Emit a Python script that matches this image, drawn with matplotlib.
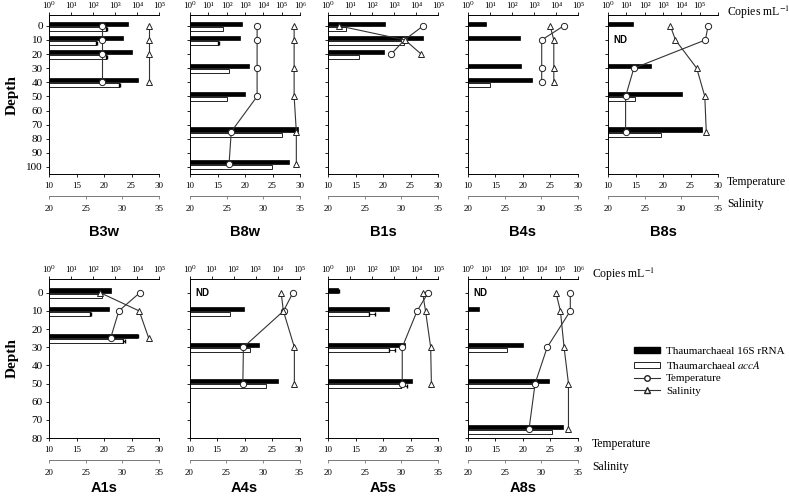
import numpy as np
import matplotlib
matplotlib.use("Agg")
import matplotlib.pyplot as plt
from matplotlib.ticker import NullLocator
from matplotlib.lines import Line2D
from matplotlib.patches import Patch

plt.rcParams['font.family'] = ['Liberation Serif', 'DejaVu Serif']
plt.rcParams['mathtext.fontset'] = 'stix'

nan = np.nan
SUP = '⁰¹²³⁴⁵⁶'

# ---------- datos fila superior (profundidad 0-100 m) ----------
b3w_depth = [0, 10, 20, 40]
b3w_16s = [4000, 2200, 5700, 11500]
b3w_acca = [400, 140, 400, 1600]
b3w_acca_err = [50, 20, 20, 100]
b3w_temp = [19.6, 19.6, 19.6, 19.6]
b3w_sal = [33.6, 33.6, 33.6, 33.6]

b8w_depth = [0, 10, 30, 50, 75, 98]
b8w_16s = [710, 530, 1700, 1000, 8.0e5, 2.6e5]
b8w_acca = [66, 34, 134, 110, 1.0e5, 2.8e4]
b8w_acca_err = [0, 6, 0, 0, 0, 0]
b8w_temp = [22.2, 22.2, 22.2, 22.2, 17.5, 17.1]
b8w_sal = [34.2, 34.2, 34.2, 34.2, 34.5, 34.5]

b1s_depth = [0, 10, 20]
b1s_16s = [400, 21000, 340]
b1s_acca = [6.8, 3000, 26]
b1s_temp = [27.3, 23.9, 21.5]
b1s_sal = [21.5, 30.5, 32.7]

b4s_depth = [0, 10, 30, 40]
b4s_16s = [6.8, 220, 250, 840]
b4s_acca = [nan, nan, nan, 9.6]
b4s_temp = [27.4, 23.4, 23.4, 23.4]
b4s_sal = [31.2, 31.7, 31.7, 31.7]

b8s_depth = [0, 10, 30, 50, 75]
b8s_16s = [23, nan, 235, 11000, 1.4e5]
b8s_acca = [nan, nan, nan, 28, 810]
b8s_temp = [28.2, 27.7, 14.7, 13.2, 13.2]
b8s_sal = [28.5, 29.2, 32.1, 33.2, 33.4]

# ---------- datos fila inferior (profundidad 0-80 m) ----------
a1s_depth = [0, 10, 25]
a1s_16s = [640, 530, 10000]
a1s_16s_err = [0, 0, 1000]
a1s_acca = [265, 75, 2300]
a1s_acca_err = [0, 10, 600]
a1s_temp = [26.5, 22.7, 21.2]
a1s_sal = [27.0, 32.3, 33.6]

a4s_depth = [0, 10, 30, 50]
a4s_16s = [nan, 290, 1400, 10700]
a4s_acca = [nan, 66, 550, 3100]
a4s_temp = [28.8, 27.1, 19.8, 19.7]
a4s_sal = [32.5, 32.8, 34.3, 34.3]

a5s_depth = [0, 10, 30, 50]
a5s_16s = [2.8, 590, 3300, 6600]
a5s_16s_err = [0.4, 0, 0, 0]
a5s_acca = [nan, 73, 570, 2000]
a5s_acca_err = [0, 60, 500, 1900]
a5s_temp = [28.2, 26.2, 23.5, 23.5]
a5s_sal = [32.9, 33.3, 34.0, 34.1]

a8s_depth = [0, 10, 30, 50, 75]
a8s_16s = [nan, 4.2, 1000, 26000, 1.5e5]
a8s_acca = [nan, nan, 140, 4200, 36000]
a8s_temp = [28.6, 28.6, 24.4, 22.2, 21.1]
a8s_sal = [32.0, 32.6, 33.1, 33.7, 33.7]

W, H = 789, 497
fig = plt.figure(figsize=(W / 100, H / 100), dpi=100)


def rect(x0, y0, x1, y1):
    return [x0 / W, 1 - y1 / H, (x1 - x0) / W, (y1 - y0) / H]


def panel(x0, y0, y1, name, depth, r16s, acca, temp, sal, ylim, dec,
          first=False, r16s_err=None, acca_err=None, nd=None, hide_last=False):
    ax = fig.add_axes(rect(x0, y0, x0 + 110, y1))
    axT = ax.twiny()
    axS = ax.twiny()

    d = np.array(depth, dtype=float)
    r16s = np.array(r16s, dtype=float)
    acca = np.array(acca, dtype=float)
    h = 0.028 * (ylim[0] - ylim[1])

    # barras (escala log arriba)
    m = ~np.isnan(r16s)
    ax.barh(d[m] - 0.5 * h, r16s[m] - 1, left=1, height=0.95 * h,
            color='black', edgecolor='black', lw=0.5)
    m2 = ~np.isnan(acca)
    ax.barh(d[m2] + 0.65 * h, acca[m2] - 1, left=1, height=0.9 * h,
            color='white', edgecolor='black', lw=0.6)
    if r16s_err is not None:
        e = np.array(r16s_err, dtype=float)
        k = m & (e > 0)
        ax.errorbar(r16s[k], d[k] - 0.5 * h, xerr=[np.zeros(k.sum()), e[k]],
                    fmt='none', ecolor='black', elinewidth=0.6, capsize=1.5)
    if acca_err is not None:
        e = np.array(acca_err, dtype=float)
        k = m2 & (e > 0)
        ax.errorbar(acca[k], d[k] + 0.65 * h, xerr=[np.zeros(k.sum()), e[k]],
                    fmt='none', ecolor='black', elinewidth=0.6, capsize=1.5)

    ax.set_xscale('log')
    ax.set_xlim(1, 10 ** dec)
    ax.set_ylim(*ylim)
    ax.xaxis.set_ticks_position('top')
    ax.set_xticks([10 ** i for i in range(dec + 1)])
    labs = ['10' + SUP[i] for i in range(dec + 1)]
    if hide_last:
        labs[-1] = ''
    ax.set_xticklabels(labs)
    ax.xaxis.set_minor_locator(NullLocator())
    ax.tick_params(axis='x', which='major', direction='out', length=2.5,
                   pad=1, labelsize=6.5, width=0.6)
    ax.set_yticks(range(0, int(ylim[0]) + 1, 10))
    ax.tick_params(axis='y', direction='out', length=2.5, width=0.6,
                   labelsize=8, pad=2, labelleft=first)
    for s in ['right', 'bottom']:
        ax.spines[s].set_visible(False)
    for s in ['left', 'top']:
        ax.spines[s].set_linewidth(0.7)

    # temperatura
    axT.set_xlim(10, 30)
    axT.xaxis.set_ticks_position('bottom')
    axT.set_xticks([10, 15, 20, 25, 30])
    axT.tick_params(axis='x', direction='out', length=2.5, width=0.6,
                    labelsize=6.5, pad=3)
    for s in ['left', 'right', 'top']:
        axT.spines[s].set_visible(False)
    axT.spines['bottom'].set_linewidth(0.7)
    axT.plot(temp, depth, color='#333333', lw=0.8, marker='o', ms=4.5,
             mfc='white', mec='#222222', mew=0.7, zorder=4)

    # salinidad
    axS.set_xlim(20, 35)
    axS.xaxis.set_ticks_position('bottom')
    axS.spines['bottom'].set_position(('outward', 16))
    axS.set_xticks([20, 25, 30, 35])
    axS.tick_params(axis='x', direction='out', length=2, width=0.6,
                    labelsize=6.5, pad=4, color='#777777')
    for s in ['left', 'right', 'top']:
        axS.spines[s].set_visible(False)
    axS.spines['bottom'].set_color('#777777')
    axS.spines['bottom'].set_linewidth(0.7)
    axS.plot(sal, depth, color='#333333', lw=0.8, marker='^', ms=4.5,
             mfc='white', mec='#222222', mew=0.7, zorder=3)

    if nd is not None:
        ax.text(0.05, nd, 'ND', transform=ax.get_yaxis_transform(),
                family='Liberation Sans', fontweight='bold', fontsize=7,
                va='center', ha='left')

    ty = (y1 + 58 if ylim[0] > 90 else y1 + 50)
    fig.text((x0 + 55) / W, 1 - ty / H, name, family='Liberation Sans',
             fontweight='bold', fontsize=10.5, ha='center', va='center')
    return ax


top = (105, -7.7)
bot = (80, -7.6)

panel(49, 15, 174, 'B3w', b3w_depth, b3w_16s, b3w_acca, b3w_temp, b3w_sal,
      top, 5, first=True, acca_err=b3w_acca_err)
panel(190, 15, 174, 'B8w', b8w_depth, b8w_16s, b8w_acca, b8w_temp, b8w_sal,
      top, 6, acca_err=b8w_acca_err)
panel(328, 15, 174, 'B1s', b1s_depth, b1s_16s, b1s_acca, b1s_temp, b1s_sal,
      top, 5)
panel(468, 15, 174, 'B4s', b4s_depth, b4s_16s, b4s_acca, b4s_temp, b4s_sal,
      top, 5)
panel(608, 15, 174, 'B8s', b8s_depth, b8s_16s, b8s_acca, b8s_temp, b8s_sal,
      top, 6, nd=10, hide_last=True)

panel(49, 279, 438, 'A1s', a1s_depth, a1s_16s, a1s_acca, a1s_temp, a1s_sal,
      bot, 5, first=True, r16s_err=a1s_16s_err, acca_err=a1s_acca_err)
panel(189.5, 279, 438, 'A4s', a4s_depth, a4s_16s, a4s_acca, a4s_temp,
      a4s_sal, bot, 5, nd=0)
panel(328, 279, 438, 'A5s', a5s_depth, a5s_16s, a5s_acca, a5s_temp, a5s_sal,
      bot, 5, r16s_err=a5s_16s_err, acca_err=a5s_acca_err)
panel(468, 279, 438, 'A8s', a8s_depth, a8s_16s, a8s_acca, a8s_temp, a8s_sal,
      bot, 6, nd=0)

# etiquetas
for yy in [95, 358]:
    fig.text(12 / W, 1 - yy / H, 'Depth', rotation=90, fontweight='bold',
             fontsize=11, ha='center', va='center')

for xx, yc, yt, ys in [(727, 12, 182, 204), (592, 274, 444, 467)]:
    fig.text(xx / W, 1 - yc / H, 'Copies mL$^{-1}$', fontsize=8.5,
             ha='left', va='center')
    fig.text(xx / W, 1 - yt / H, 'Temperature', fontsize=8.5,
             ha='left', va='center')
    fig.text(xx / W, 1 - ys / H, 'Salinity', fontsize=8.5,
             ha='left', va='center')

handles = [
    Patch(facecolor='black', edgecolor='black'),
    Patch(facecolor='white', edgecolor='black', lw=0.6),
    Line2D([], [], color='#333333', lw=0.8, marker='o', ms=4, mfc='white',
           mec='#222222'),
    Line2D([], [], color='#333333', lw=0.8, marker='^', ms=4, mfc='white',
           mec='#222222'),
]
labels = ['Thaumarchaeal 16S rRNA', 'Thaumarchaeal $\\mathit{accA}$',
          'Temperature', 'Salinity']
fig.legend(handles, labels, loc='upper left',
           bbox_to_anchor=(628 / W, 1 - 341 / H), frameon=False,
           fontsize=8, handlelength=2.4, handleheight=0.5,
           labelspacing=0.3, handletextpad=0.5, borderpad=0)

fig.savefig('out.png', dpi=100)
